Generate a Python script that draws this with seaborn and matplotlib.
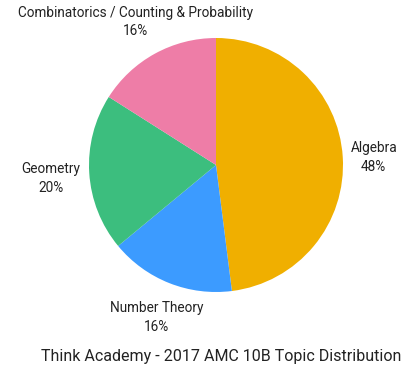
import numpy as np
import matplotlib
matplotlib.use("Agg")
import matplotlib.pyplot as plt
import seaborn as sns

topics = ["Algebra", "Number Theory", "Geometry", "Combinatorics / Counting & Probability"]
shares = [48, 16, 20, 16]
colors = ["#F0AF00", "#3C9BFF", "#3CBE7E", "#EE7DA7"]
label_dist = [1.245, 1.265, 1.30, 1.31]
title = "Think Academy - 2017 AMC 10B Topic Distribution"

sns.set_theme(style="white")
plt.rcParams["font.family"] = ["Roboto", "DejaVu Sans"]

W, H = 420, 371
fig = plt.figure(figsize=(W / 100, H / 100), dpi=100)
cx, cy, r = 216, 165, 127
ax = fig.add_axes([(cx - r) / W, (H - cy - r) / H, 2 * r / W, 2 * r / H])

wedges, _ = ax.pie(shares, colors=colors, startangle=90, counterclock=False,
                   radius=1, wedgeprops=dict(linewidth=0))
ax.set_xlim(-1, 1)
ax.set_ylim(-1, 1)
ax.axis("off")

# labels sit a touch lower than the plain radial position
for w, name, val, d in zip(wedges, topics, shares, label_dist):
    mid = np.deg2rad((w.theta1 + w.theta2) / 2)
    ax.text(d * np.cos(mid), d * np.sin(mid) - 0.022, f"{name}\n{val}%",
            ha="center", va="center", fontsize=9.8, color="#222222",
            linespacing=1.45, clip_on=False)

fig.text(221 / W, 1 - 356 / H, title, ha="center", va="center",
         fontsize=11.5, color="#222222")

fig.savefig("out.png", dpi=100)
